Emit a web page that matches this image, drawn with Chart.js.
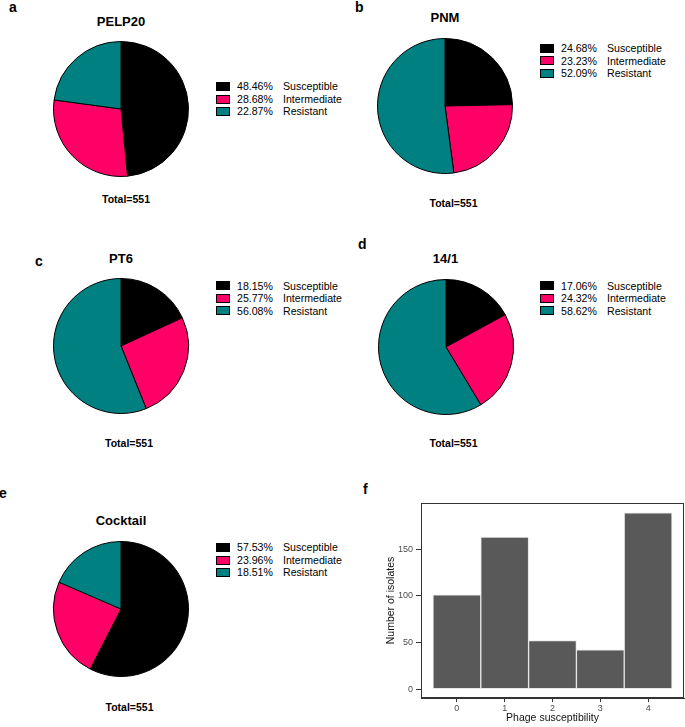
<!DOCTYPE html>
<html>
<head>
<meta charset="utf-8">
<script src="https://cdn.jsdelivr.net/npm/chart.js@4.4.1/dist/chart.umd.min.js"></script>
<style>
    html, body { margin: 0; padding: 0; background: #fff; }
    #page { position: relative; width: 685px; height: 727px; overflow: hidden; font-family: "Liberation Sans", Arial, sans-serif; }
    #page canvas { position: absolute; }
    .t { position: absolute; white-space: pre; }
    .sw { position: absolute; width: 14px; height: 9px; box-sizing: border-box; border: 1px solid #000; }
</style>
</head>
<body>
<div id="page"></div>
<script>
(function() {
    'use strict';

    // pie data, percent of isolates
    var classes = ['Susceptible', 'Intermediate', 'Resistant'];
    var classColors = ['#000000', '#ff0066', '#008080'];

    var pelp20Pct = [48.46, 28.68, 22.87];
    var pnmPct = [24.68, 23.23, 52.09];
    var pt6Pct = [18.15, 25.77, 56.08];
    var phage141Pct = [17.06, 24.32, 58.62];
    var cocktailPct = [57.53, 23.96, 18.51];
    var totalIsolates = 551;

    // histogram data (panel f)
    var phageSusceptibility = [0, 1, 2, 3, 4];
    var isolateCounts = [101, 163, 52, 42, 189];
    var countTicks = [0, 50, 100, 150];

    var page = document.getElementById('page');
    var FONT = '"Liberation Sans", Arial, sans-serif';

    function txt(str, x, baseline, size, weight, align, color) {
        var d = document.createElement('div');
        d.className = 't';
        d.textContent = str;
        d.style.fontSize = size + 'px';
        d.style.lineHeight = size + 'px';
        d.style.fontWeight = weight || 'normal';
        d.style.color = color || '#000';
        d.style.left = x + 'px';
        d.style.top = (baseline - 0.846 * size) + 'px';
        if (align === 'center') d.style.transform = 'translateX(-50%)';
        page.appendChild(d);
        return d;
    }

    function pie(p) {
        var c = document.createElement('canvas');
        c.width = 140;
        c.height = 140;
        c.style.left = (p.cx - 70) + 'px';
        c.style.top = (p.cy - 70) + 'px';
        page.appendChild(c);

        new Chart(c.getContext('2d'), {
            type: 'pie',
            data: {
                labels: classes,
                datasets: [{
                    data: p.values,
                    backgroundColor: classColors,
                    borderColor: '#000',
                    borderWidth: 1
                }]
            },
            options: {
                responsive: false,
                animation: false,
                radius: 67.5,
                layout: { padding: 0 },
                plugins: { legend: { display: false }, tooltip: { enabled: false } }
            }
        });

        txt(p.letter, p.lx, p.lb, 14, 'bold');
        txt(p.title, p.cx, p.tb, 13, 'bold', 'center');
        txt('Total=' + totalIsolates, p.totx, p.totb, 10.5, 'bold', 'center');

        for (var i = 0; i < classes.length; i++) {
            var y = p.legY + i * 12.5;
            var sw = document.createElement('div');
            sw.className = 'sw';
            sw.style.background = classColors[i];
            sw.style.left = p.legX + 'px';
            sw.style.top = (y - 4.5) + 'px';
            page.appendChild(sw);
            txt(p.values[i].toFixed(2) + '%', p.legX + 21, y + 3.8, 10.6);
            txt(classes[i], p.legX + 67, y + 3.8, 10.6);
        }
    }

    pie({ letter: 'a', lx: 9, lb: 11.7, title: 'PELP20', values: pelp20Pct,
          cx: 121, cy: 108.5, tb: 25.7, totx: 126, totb: 203.3, legX: 216, legY: 86.5 });
    pie({ letter: 'b', lx: 355, lb: 11.7, title: 'PNM', values: pnmPct,
          cx: 445, cy: 105.5, tb: 21.7, totx: 453.5, totb: 206.7, legX: 540, legY: 48.3 });
    pie({ letter: 'c', lx: 35, lb: 266, title: 'PT6', values: pt6Pct,
          cx: 121, cy: 346, tb: 263.3, totx: 129, totb: 446.7, legX: 216, legY: 285.7 });
    pie({ letter: 'd', lx: 358, lb: 249.3, title: '14/1', values: phage141Pct,
          cx: 445.5, cy: 346.5, tb: 263.3, totx: 453.5, totb: 446.7, legX: 540, legY: 285.7 });
    pie({ letter: 'e', lx: -1, lb: 498, title: 'Cocktail', values: cocktailPct,
          cx: 121, cy: 609, tb: 525, totx: 129.5, totb: 710.7, legX: 216, legY: 547.5 });

    // panel f, histogram
    txt('f', 363, 494, 14, 'bold');

    var hc = document.createElement('canvas');
    hc.width = 315;
    hc.height = 247;
    hc.style.left = '370px';
    hc.style.top = '480px';
    page.appendChild(hc);

    var panelBox = {
        id: 'panelBox',
        afterDraw: function(chart) {
            var a = chart.chartArea, ctx = chart.ctx;
            ctx.save();
            ctx.strokeStyle = '#333';
            ctx.lineWidth = 1;
            ctx.strokeRect(Math.round(a.left) + 0.5, Math.round(a.top) + 0.5,
                Math.round(a.right - a.left) - 1, Math.round(a.bottom - a.top) - 1);
            ctx.restore();
        }
    };

    new Chart(hc.getContext('2d'), {
        type: 'bar',
        data: {
            datasets: [{
                data: phageSusceptibility.map(function(x, i) { return { x: x, y: isolateCounts[i] }; }),
                backgroundColor: '#595959',
                borderColor: '#e6e6e6',
                borderWidth: 1,
                borderSkipped: false,
                barPercentage: 1,
                categoryPercentage: 1
            }]
        },
        options: {
            responsive: false,
            animation: false,
            layout: { padding: { top: 23, right: 1, left: 0, bottom: 0 } },
            plugins: { legend: { display: false }, tooltip: { enabled: false } },
            scales: {
                x: {
                    type: 'linear',
                    offset: false,
                    min: -0.75,
                    max: 4.75,
                    afterBuildTicks: function(s) {
                        s.ticks = phageSusceptibility.map(function(v) { return { value: v }; });
                    },
                    afterFit: function(s) { s.height = 29; },
                    grid: { offset: false, drawOnChartArea: false, drawTicks: true, tickLength: 4, color: '#333' },
                    border: { display: true, color: '#333', width: 1 },
                    ticks: { color: '#4d4d4d', padding: 1, maxRotation: 0, font: { family: FONT, size: 9 } },
                    title: {
                        display: true, text: 'Phage susceptibility', color: '#111',
                        padding: { top: 0, bottom: 2.4 }, font: { family: FONT, size: 10.5 }
                    }
                },
                y: {
                    min: -9.5,
                    max: 199.5,
                    afterBuildTicks: function(s) {
                        s.ticks = countTicks.map(function(v) { return { value: v }; });
                    },
                    afterFit: function(s) { s.width = 51; },
                    grid: { drawOnChartArea: false, drawTicks: true, tickLength: 5, color: '#333' },
                    border: { display: true, color: '#333', width: 1 },
                    ticks: { color: '#4d4d4d', padding: 3, font: { family: FONT, size: 9 } },
                    title: {
                        display: true, text: 'Number of isolates', color: '#111',
                        padding: { top: 14.7, bottom: 0 }, font: { family: FONT, size: 10.5 }
                    }
                }
            }
        },
        plugins: [panelBox]
    });
})();
</script>
</body>
</html>
